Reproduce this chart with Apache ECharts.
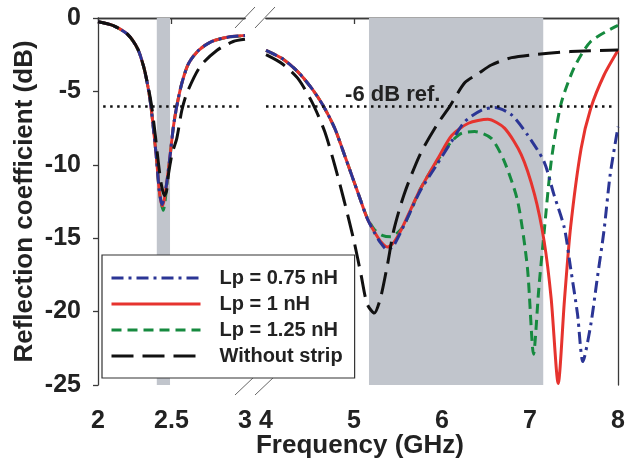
<!DOCTYPE html>
<html>
<head>
<meta charset="utf-8">
<title>Reflection coefficient</title>
<script src="https://cdn.jsdelivr.net/npm/echarts@6/dist/echarts.min.js"></script>
<style>
  html, body { margin: 0; padding: 0; background: #fff; }
  #chart { width: 628px; height: 464px; }
</style>
</head>
<body>
<div id="chart"></div>
<script>
// 频段 / 参考线
const bandLow = [2.4, 2.49];
const bandHigh = [5.17, 7.15];
const refLevel = -6;
const refSpanLow = [2.035, 2.98];
const refSpanHigh = [4.0, 7.97];
const refLabelAt = 5.44;

const yTicks = [0, -5, -10, -15, -20, -25];
const xLabelsLow = [2, 2.5, 3];
const xLabelsHigh = [4, 5, 6, 7, 8];

const seriesNames = ['Lp = 0.75 nH', 'Lp = 1 nH', 'Lp = 1.25 nH', 'Without strip'];

// 2 - 3 GHz 段
const lp075Low = [[2.0, -0.25], [2.1, -0.5], [2.2, -1.1], [2.27, -2.1], [2.31, -3.3], [2.34, -4.7], [2.36, -6.0], [2.38, -7.8], [2.4, -9.8], [2.415, -11.6], [2.427, -12.4], [2.436, -12.7], [2.448, -12.3], [2.468, -11.2], [2.49, -9.4], [2.513, -7.4], [2.536, -6.0], [2.57, -4.45], [2.616, -3.1], [2.684, -2.2], [2.775, -1.6], [2.888, -1.3], [3.0, -1.2]];
const lp1Low = [[2.0, -0.25], [2.1, -0.5], [2.2, -1.1], [2.27, -2.1], [2.31, -3.3], [2.34, -4.7], [2.36, -6.0], [2.38, -7.8], [2.4, -9.8], [2.415, -11.6], [2.428, -12.5], [2.438, -12.8], [2.45, -12.4], [2.468, -11.2], [2.49, -9.4], [2.513, -7.4], [2.536, -6.0], [2.57, -4.45], [2.616, -3.1], [2.684, -2.2], [2.775, -1.6], [2.888, -1.3], [3.0, -1.2]];
const lp125Low = [[2.0, -0.25], [2.1, -0.5], [2.2, -1.1], [2.27, -2.1], [2.31, -3.3], [2.34, -4.7], [2.36, -6.0], [2.38, -7.8], [2.4, -9.8], [2.415, -11.6], [2.43, -12.6], [2.444, -13.1], [2.456, -12.5], [2.47, -11.2], [2.49, -9.5], [2.513, -7.4], [2.536, -6.0], [2.57, -4.45], [2.616, -3.1], [2.684, -2.2], [2.775, -1.6], [2.888, -1.3], [3.0, -1.2]];
const noStripLow = [[2.0, -0.25], [2.1, -0.5], [2.2, -1.1], [2.27, -2.1], [2.31, -3.3], [2.34, -4.6], [2.365, -6.0], [2.39, -8.0], [2.41, -9.8], [2.43, -11.3], [2.452, -12.1], [2.466, -11.8], [2.48, -10.6], [2.505, -9.2], [2.536, -8.2], [2.57, -6.3], [2.605, -5.1], [2.695, -3.3], [2.81, -2.2], [2.92, -1.6], [3.0, -1.45]];

// 4 - 8 GHz 段
const lp075High = [[4.0, -2.2], [4.18, -2.75], [4.36, -3.65], [4.52, -4.8], [4.65, -5.97], [4.78, -7.5], [4.89, -9.3], [5.0, -11.15], [5.08, -12.5], [5.15, -13.65], [5.23, -14.6], [5.3, -15.3], [5.38, -15.8], [5.45, -15.5], [5.53, -14.6], [5.64, -13.2], [5.75, -11.8], [5.94, -10.0], [6.11, -8.4], [6.26, -7.05], [6.45, -6.27], [6.6, -6.1], [6.79, -6.6], [6.97, -7.95], [7.16, -9.8], [7.27, -12.0], [7.39, -14.3], [7.46, -17.0], [7.54, -20.2], [7.6, -23.4], [7.69, -20.9], [7.76, -17.9], [7.84, -14.5], [7.91, -10.7], [8.0, -7.4]];
const lp1High = [[4.0, -2.2], [4.18, -2.75], [4.36, -3.65], [4.52, -4.8], [4.65, -5.97], [4.78, -7.5], [4.89, -9.3], [5.0, -11.15], [5.08, -12.5], [5.15, -13.65], [5.23, -14.55], [5.3, -15.2], [5.38, -15.6], [5.45, -15.3], [5.53, -14.5], [5.64, -13.1], [5.75, -11.7], [5.96, -9.5], [6.11, -8.0], [6.3, -7.17], [6.52, -6.9], [6.71, -7.5], [6.9, -9.3], [7.05, -12.0], [7.16, -15.2], [7.24, -19.1], [7.32, -24.9], [7.39, -19.3], [7.46, -14.3], [7.58, -8.9], [7.69, -6.15], [7.84, -3.9], [8.0, -2.2]];
const lp125High = [[4.0, -2.2], [4.18, -2.75], [4.36, -3.65], [4.52, -4.8], [4.65, -5.97], [4.78, -7.5], [4.89, -9.3], [5.0, -11.15], [5.08, -12.5], [5.15, -13.6], [5.23, -14.4], [5.32, -14.8], [5.42, -14.9], [5.5, -14.6], [5.57, -14.1], [5.75, -11.7], [5.96, -9.6], [6.11, -8.4], [6.22, -7.86], [6.37, -7.74], [6.56, -8.2], [6.71, -9.8], [6.86, -12.5], [6.97, -17.0], [7.04, -22.9], [7.1, -18.4], [7.16, -14.6], [7.24, -9.8], [7.35, -5.9], [7.5, -3.4], [7.69, -1.6], [8.0, -0.5]];
const noStripHigh = [[4.0, -2.5], [4.18, -3.1], [4.36, -4.1], [4.52, -5.7], [4.665, -7.7], [4.78, -10.0], [4.89, -12.5], [5.0, -15.2], [5.08, -17.5], [5.15, -19.5], [5.23, -20.1], [5.3, -19.1], [5.38, -16.8], [5.45, -14.5], [5.57, -12.0], [5.75, -9.3], [5.94, -7.3], [6.09, -6.0], [6.26, -4.4], [6.41, -3.8], [6.56, -3.2], [6.79, -2.7], [7.09, -2.47], [7.46, -2.29], [8.0, -2.18]];

const FONT = '"Liberation Sans", Arial, sans-serif';
const AXIS_COLOR = '#3a3a3a';

const styles = {
  'Lp = 0.75 nH': { color: '#2b3595', width: 3, type: [12, 5, 3, 5] },
  'Lp = 1 nH': { color: '#e6332e', width: 3, type: 'solid' },
  'Lp = 1.25 nH': { color: '#168a3f', width: 3, type: [10, 6] },
  'Without strip': { color: '#111111', width: 3, type: [22, 9] },
};

/**
 * 生成一条曲线
 */
const makeLine = (name, data, xIdx, yIdx) => ({
  type: 'line',
  name,
  xAxisIndex: xIdx,
  yAxisIndex: yIdx,
  data,
  symbol: 'none',
  smooth: 0.25,
  lineStyle: styles[name],
  itemStyle: { color: styles[name].color },
});

const bandStyle = { color: '#c1c5cc' };
const refLineStyle = { color: '#111', width: 2.5, type: [2.5, 4.5] };

const lowGreen = makeLine(seriesNames[2], lp125Low, 0, 0);
lowGreen.markArea = {
  silent: true,
  itemStyle: bandStyle,
  data: [[{ xAxis: bandLow[0] }, { xAxis: bandLow[1] }]],
};
lowGreen.markLine = {
  silent: true,
  symbol: 'none',
  label: { show: false },
  lineStyle: refLineStyle,
  data: [[{ coord: [refSpanLow[0], refLevel] }, { coord: [refSpanLow[1], refLevel] }]],
};

const highGreen = makeLine(seriesNames[2], lp125High, 2, 1);
highGreen.markArea = {
  silent: true,
  itemStyle: bandStyle,
  data: [[{ xAxis: bandHigh[0] }, { xAxis: bandHigh[1] }]],
};
highGreen.markLine = {
  silent: true,
  symbol: 'none',
  label: { show: false },
  lineStyle: refLineStyle,
  data: [[{ coord: [refSpanHigh[0], refLevel] }, { coord: [refSpanHigh[1], refLevel] }]],
};
highGreen.markPoint = {
  silent: true,
  symbol: 'rect',
  symbolSize: 1,
  itemStyle: { color: 'rgba(0,0,0,0)' },
  label: {
    show: true,
    position: 'top',
    distance: 0,
    formatter: '-6 dB ref.',
    color: '#222',
    fontFamily: FONT,
    fontWeight: 'bold',
    fontSize: 22,
  },
  data: [{ coord: [refLabelAt, refLevel] }],
};

const xBase = {
  axisLine: { show: true, lineStyle: { color: AXIS_COLOR, width: 1.3 } },
  splitLine: { show: false },
};

const option = {
  animation: false,
  grid: [
    { left: 98, top: 18, width: 147, height: 367 },
    { left: 266, top: 18, width: 355, height: 367 },
  ],
  xAxis: [
    {
      ...xBase,
      gridIndex: 0,
      type: 'value',
      min: 2,
      max: 3,
      interval: 0.5,
      axisTick: { show: true, length: 6, customValues: [2, 2.5], lineStyle: { color: AXIS_COLOR, width: 1.3 } },
      axisLabel: { customValues: xLabelsLow, margin: 24, color: '#222', fontFamily: FONT, fontWeight: 'bold', fontSize: 25 },
    },
    { ...xBase, gridIndex: 0, type: 'value', position: 'top', min: 2, max: 3, axisTick: { show: false }, axisLabel: { show: false } },
    {
      ...xBase,
      gridIndex: 1,
      type: 'value',
      min: 4,
      max: 8,
      interval: 1,
      axisTick: { show: true, length: 6, customValues: [5, 6, 7, 8], lineStyle: { color: AXIS_COLOR, width: 1.3 } },
      axisLabel: { customValues: xLabelsHigh, margin: 24, color: '#222', fontFamily: FONT, fontWeight: 'bold', fontSize: 25 },
    },
    { ...xBase, gridIndex: 1, type: 'value', position: 'top', min: 4, max: 8, axisTick: { show: false }, axisLabel: { show: false } },
  ],
  yAxis: [
    {
      gridIndex: 0,
      type: 'value',
      min: -25,
      max: 0,
      interval: 5,
      name: 'Reflection coefficient (dB)',
      nameLocation: 'middle',
      nameGap: 60,
      nameTextStyle: { color: '#222', fontFamily: FONT, fontWeight: 'bold', fontSize: 26 },
      axisLine: { show: true, lineStyle: { color: AXIS_COLOR, width: 1.3 } },
      axisTick: { show: true, inside: false, length: 5, lineStyle: { color: AXIS_COLOR, width: 1.3 } },
      axisLabel: { customValues: yTicks, margin: 17, color: '#222', fontFamily: FONT, fontWeight: 'bold', fontSize: 25 },
      splitLine: { show: false },
    },
    {
      gridIndex: 1,
      type: 'value',
      position: 'right',
      min: -25,
      max: 0,
      interval: 5,
      axisLine: { show: true, lineStyle: { color: AXIS_COLOR, width: 1.3 } },
      axisTick: { show: false },
      axisLabel: { show: false },
      splitLine: { show: false },
    },
  ],
  legend: {
    data: seriesNames,
    orient: 'vertical',
    left: 102,
    top: 255,
    padding: [12, 12, 11, 8],
    itemGap: 4,
    itemWidth: 89,
    itemHeight: 14,
    itemStyle: { opacity: 0 },
    lineStyle: { width: 3 },
    backgroundColor: '#fff',
    borderColor: '#333',
    borderWidth: 1.2,
    borderRadius: 0,
    textStyle: {
      color: '#222',
      fontFamily: FONT,
      fontWeight: 'bold',
      fontSize: 20,
      lineHeight: 22,
      padding: [0, 0, 0, 14],
    },
  },
  graphic: [
    {
      type: 'text',
      x: 360,
      y: 433,
      style: { text: 'Frequency (GHz)', fill: '#222', font: 'bold 26px ' + FONT, textAlign: 'center', textVerticalAlign: 'top' },
    },
    { type: 'line', shape: { x1: 235, y1: 28, x2: 255, y2: 7 }, style: { stroke: '#666', lineWidth: 1 } },
    { type: 'line', shape: { x1: 255, y1: 28, x2: 275, y2: 7 }, style: { stroke: '#666', lineWidth: 1 } },
    { type: 'line', shape: { x1: 235, y1: 395, x2: 255, y2: 376 }, style: { stroke: '#666', lineWidth: 1 } },
    { type: 'line', shape: { x1: 255, y1: 395, x2: 275, y2: 376 }, style: { stroke: '#666', lineWidth: 1 } },
  ],
  series: [
    lowGreen,
    makeLine(seriesNames[1], lp1Low, 0, 0),
    makeLine(seriesNames[0], lp075Low, 0, 0),
    makeLine(seriesNames[3], noStripLow, 0, 0),
    highGreen,
    makeLine(seriesNames[1], lp1High, 2, 1),
    makeLine(seriesNames[0], lp075High, 2, 1),
    makeLine(seriesNames[3], noStripHigh, 2, 1),
  ],
};

const chart = echarts.init(document.getElementById('chart'));
chart.setOption(option);
</script>
</body>
</html>
